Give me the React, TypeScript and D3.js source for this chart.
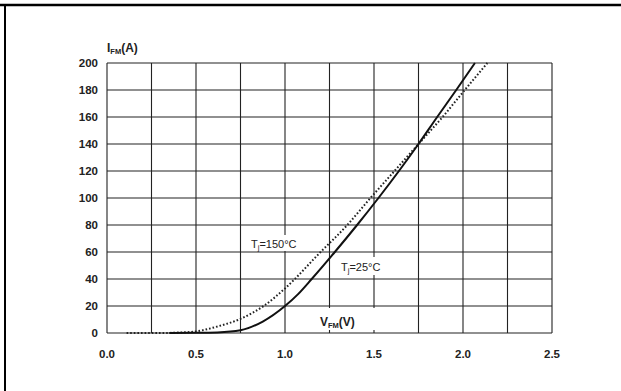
import React from 'react';
import * as d3 from 'd3';

// forward characteristic, Tj = 25°C (solid)
const v25 = [0.35, 0.5, 0.62, 0.75, 0.875, 1.0, 1.075, 1.15, 1.28, 1.405, 1.525, 1.64, 1.75, 1.855, 1.962, 2.067];
const i25 = [0, 0.1, 0.4, 2, 8.5, 20, 29, 40, 60, 80, 100, 120, 140, 160, 180, 200];

// forward characteristic, Tj = 150°C (dotted)
const v150 = [0.11, 0.3, 0.4, 0.5, 0.625, 0.75, 0.88, 1.0, 1.2, 1.35, 1.48, 1.615, 1.75, 1.885, 2.01, 2.137];
const i150 = [0, 0, 0.3, 1.2, 5, 10.5, 20, 33, 60, 80, 100, 120, 140, 160, 180, 200];

const xTicks = [0, 0.5, 1.0, 1.5, 2.0, 2.5];
const xGrid = d3.range(0, 2.51, 0.25);
const yTicks = d3.range(0, 201, 20);

const W = 621;
const H = 391;
const font = '"Liberation Sans", Arial, sans-serif';

export default function App() {
  const x = d3.scaleLinear().domain([0, 2.5]).range([107, 552]);
  const y = d3.scaleLinear().domain([0, 200]).range([333, 63]);

  const line = d3
    .line<[number, number]>()
    .x((d) => x(d[0]))
    .y((d) => y(d[1]))
    .curve(d3.curveMonotoneX);

  const pts25 = v25.map((v, i) => [v, i25[i]] as [number, number]);
  const pts150 = v150.map((v, i) => [v, i150[i]] as [number, number]);

  return (
    <svg
      width={W}
      height={H}
      style={{ position: 'absolute', left: 0, top: 0, background: '#fff' }}
      fontFamily={font}
    >
      {/* page frame */}
      <line x1={0} x2={W} y1={5} y2={5} stroke="#000" strokeWidth={2.5} />
      <line x1={5} x2={5} y1={5} y2={H} stroke="#000" strokeWidth={2} />

      {/* grid */}
      {xGrid.map((v) => (
        <line key={'gx' + v} x1={x(v)} x2={x(v)} y1={y(0)} y2={y(200)} stroke="#222" strokeWidth={1.1} />
      ))}
      {yTicks.map((v) => (
        <line key={'gy' + v} x1={x(0)} x2={x(2.5)} y1={y(v)} y2={y(v)} stroke="#222" strokeWidth={1.1} />
      ))}

      {/* label backgrounds that break the grid */}
      <rect x={242} y={235} width={66} height={16} fill="#fff" />
      <rect x={338} y={257} width={48} height={18} fill="#fff" />
      <rect x={317} y={308} width={60} height={22} fill="#fff" />

      {/* curves */}
      <path d={line(pts150) as string} fill="none" stroke="#222" strokeWidth={2} strokeDasharray="1.6 2" />
      <path d={line(pts25) as string} fill="none" stroke="#111" strokeWidth={2} />

      {/* tick labels */}
      {yTicks.map((v) => (
        <text key={'ty' + v} x={98} y={y(v)} dy="0.36em" textAnchor="end" fontSize={11.5} fontWeight="bold" fill="#222">
          {v}
        </text>
      ))}
      {xTicks.map((v) => (
        <text key={'tx' + v} x={x(v)} y={357.5} textAnchor="middle" fontSize={11.5} fontWeight="bold" fill="#222">
          {v.toFixed(1)}
        </text>
      ))}

      {/* axis titles */}
      <text x={107} y={52} fontSize={12} fontWeight="bold" fill="#222">
        I<tspan fontSize={7.5} dy={2}>FM</tspan>
        <tspan dy={-2}>(A)</tspan>
      </text>
      <text x={320} y={326} fontSize={12} fontWeight="bold" fill="#222">
        V<tspan fontSize={7.5} dy={2}>FM</tspan>
        <tspan dy={-2}>(V)</tspan>
      </text>

      {/* curve labels */}
      <text x={251} y={248} fontSize={11} fill="#222">
        T<tspan fontSize={7.5} dy={2}>j</tspan>
        <tspan dy={-2}>=150°C</tspan>
      </text>
      <text x={341} y={271} fontSize={11} fill="#222">
        T<tspan fontSize={7.5} dy={2}>j</tspan>
        <tspan dy={-2}>=25°C</tspan>
      </text>
    </svg>
  );
}
